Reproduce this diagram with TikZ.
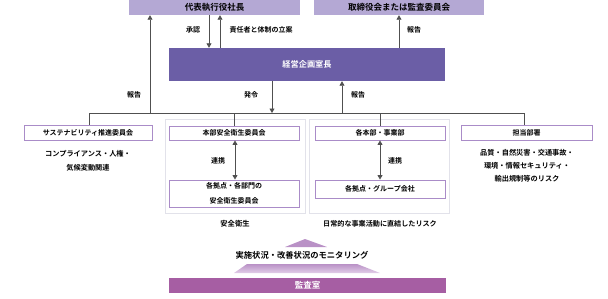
\documentclass[tikz,border=0pt]{standalone}
\usepackage{fontspec}
\setmainfont{Noto Sans CJK JP}[BoldFont={Noto Sans CJK JP Bold}]
\usetikzlibrary{arrows.meta,calc}
\definecolor{topfill}{RGB}{180,168,212}
\definecolor{mainfill}{RGB}{107,94,166}
\definecolor{auditfill}{RGB}{166,94,163}
\definecolor{boxborder}{RGB}{170,140,200}
\definecolor{framegray}{RGB}{226,226,234}
\definecolor{linegray}{RGB}{80,80,80}
\definecolor{gradtop}{RGB}{185,145,198}
\definecolor{gradbot}{RGB}{226,206,232}
\begin{document}
\begin{tikzpicture}[x=1pt,y=-1pt,
  every node/.style={font=\bfseries\fontsize{7}{9}\selectfont, inner sep=0pt},
  topbox/.style={fill=topfill, draw=none, minimum height=15pt, font=\bfseries\fontsize{8.5}{10}\selectfont},
  mainbox/.style={fill=mainfill, draw=none, text=white, font=\bfseries\fontsize{8.2}{10}\selectfont},
  unitbox/.style={fill=white, draw=boxborder, line width=0.9pt, align=center},
  framebox/.style={draw=framegray, line width=0.8pt},
  conn/.style={draw=linegray, line width=0.8pt},
  arr/.style={conn, -{Triangle[length=4.5pt,width=5pt]}},
  darr/.style={conn, {Triangle[length=4.5pt,width=5pt]}-{Triangle[length=4.5pt,width=5pt]}},
  lbl/.style={font=\bfseries\fontsize{7}{9}\selectfont},
  desc/.style={align=center, font=\bfseries\fontsize{7.2}{14}\selectfont}
]
\useasboundingbox (0,0) rectangle (608,298);

% frames
\draw[framebox] (165,119) rectangle (305,213);
\draw[framebox] (309,119) rectangle (449,213);

% top boxes
\node[topbox, minimum width=171pt] (ceo) at (214.5,7.5) {代表執行役社長};
\node[topbox, minimum width=170pt] (board) at (399,7.5) {取締役会または監査委員会};
% main
\node[mainbox, minimum width=276pt, minimum height=33pt] (plan) at (307,64.5) {経営企画室長};

% unit boxes
\node[unitbox, minimum width=128pt, minimum height=15pt] (sus) at (88,132.5) {サステナビリティ推進委員会};
\node[unitbox, minimum width=130pt, minimum height=14pt] (hq) at (234,133) {本部安全衛生委員会};
\node[unitbox, minimum width=130pt, minimum height=27pt, font=\bfseries\fontsize{7}{15}\selectfont] (site) at (234,193.5) {各拠点・各部門の\\安全衛生委員会};
\node[unitbox, minimum width=130pt, minimum height=14pt] (div) at (380,133) {各本部・事業部};
\node[unitbox, minimum width=130pt, minimum height=18pt] (grp) at (380,189) {各拠点・グループ会社};
\node[unitbox, minimum width=131pt, minimum height=15pt] (dept) at (526.5,132.5) {担当部署};

% bus
\coordinate (busL) at (89,113);
\coordinate (busR) at (524,113);
\coordinate (bA) at (234,113);
\coordinate (bB) at (380,113);
\coordinate (bRep) at (150,113);
\coordinate (bOrd) at (272,113);
\coordinate (bRep2) at (342,113);
\draw[conn] (sus.north -| busL) -- (busL) -- (busR) -- (dept.north -| busR);
\draw[conn] (bA) -- (hq.north -| bA);
\draw[conn] (bB) -- (div.north -| bB);

% arrows
\draw[arr] (bRep) -- (bRep |- ceo.south);
\node[lbl] (lrep1) at (134,95) {報告};
\coordinate (cApp) at (209,0);
\coordinate (cProp) at (220,0);
\draw[arr] (cApp |- ceo.south) -- (cApp |- plan.north);
\draw[arr] (cProp |- plan.north) -- (cProp |- ceo.south);
\node[lbl] (lapp) at (193,30) {承認};
\node[lbl] (lprop) at (261,30) {責任者と体制の立案};
\coordinate (cRep3) at (399,0);
\draw[arr] (cRep3 |- plan.north) -- (cRep3 |- board.south);
\node[lbl] (lrep3) at (414,30) {報告};
\draw[arr] (bOrd |- plan.south) -- (bOrd);
\node[lbl] (lord) at (251,95) {発令};
\draw[arr] (bRep2) -- (bRep2 |- plan.south);
\node[lbl] (lrep2) at (358,95) {報告};

% cooperation
\coordinate (cA) at (235,0);
\draw[darr] (cA |- hq.south) -- (cA |- site.north);
\node[lbl] (lcoopA) at (218,161) {連携};
\coordinate (cB) at (380,0);
\draw[darr] (cB |- div.south) -- (cB |- grp.north);
\node[lbl] (lcoopB) at (395,161) {連携};

% descriptions
\node[desc] (dsus) at (88,161) {コンプライアンス・人権・\\気候変動関連};
\node[desc, font=\bfseries\fontsize{7.2}{13}\selectfont] (ddept) at (527,166) {品質・自然災害・交通事故・\\環境・情報セキュリティ・\\輸出規制等のリスク};
\node[lbl, font=\bfseries\fontsize{7.3}{9}\selectfont] (dsafe) at (235,224) {安全衛生};
\node[lbl, font=\bfseries\fontsize{7.1}{9}\selectfont] (drisk) at (380,224) {日常的な事業活動に直結したリスク};

% monitoring
\fill[gradtop] (305,239) -- (327,247) -- (285,247) -- cycle;
\shade[top color=gradtop, bottom color=gradbot] (247,264) -- (357,264) -- (380,273) -- (234,273) -- cycle;
\node[font=\bfseries\fontsize{8.3}{10}\selectfont] (mon) at (302,255.5) {実施状況・改善状況のモニタリング};
\node[fill=auditfill, minimum width=277pt, minimum height=15pt, text=white, font=\bfseries\fontsize{8.5}{10}\selectfont] (audit) at (307.5,285.5) {監査室};
\end{tikzpicture}
\end{document}
